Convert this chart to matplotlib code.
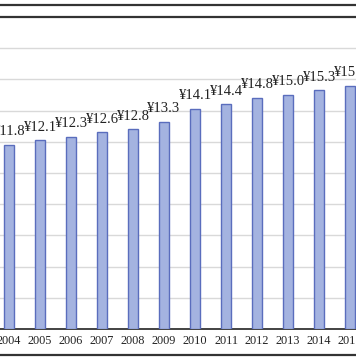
import matplotlib
matplotlib.use("Agg")
import matplotlib.pyplot as plt
from matplotlib.lines import Line2D

years = ["2004", "2005", "2006", "2007", "2008", "2009", "2010", "2011",
         "2012", "2013", "2014", "2015"]
values = [11.8, 12.1, 12.3, 12.6, 12.8, 13.3, 14.1, 14.4, 14.8, 15.0, 15.3, 15.6]
labels = ["¥11.8", "¥12.1", "¥12.3", "¥12.6", "¥12.8", "¥13.3", "¥14.1", "¥14.4",
          "¥14.8", "¥15.0", "¥15.3", "¥15.6"]

W, H = 356, 364
fig = plt.figure(figsize=(W / 100, H / 100), dpi=100)
y0 = (H - 329) / H
y1 = (H - 17) / H
ax = fig.add_axes([0, y0, 1, y1 - y0])
ax.set_facecolor("white")

x = list(range(len(years)))
ax.bar(x, values, width=0.34, color="#a4b3e0", edgecolor="#5a6dbd", linewidth=1.0, zorder=3)

for xi, v, lab in zip(x, values, labels):
    ax.annotate(lab, (xi, v), xytext=(0, 7), textcoords="offset points",
                ha="center", va="baseline", fontsize=10.5,
                family=["Liberation Serif", "DejaVu Serif"], color="#222222", zorder=4)

ax.set_ylim(0, 20)
ax.set_xlim(-0.29, 11.19)
ax.set_yticks([2, 4, 6, 8, 10, 12, 14, 16, 18])
ax.yaxis.grid(True, color="#d9d9d9", linewidth=1.0, zorder=0)
ax.tick_params(axis="y", left=False, labelleft=False)
ax.tick_params(axis="x", length=0, pad=4)
ax.set_xticks(x)
ax.set_xticklabels(years, fontsize=8.8, family=["Liberation Serif", "DejaVu Serif"], color="#222222")
for s in ["left", "right"]:
    ax.spines[s].set_visible(False)
ax.spines["bottom"].set_color("#222222")
ax.spines["bottom"].set_linewidth(1.2)
ax.spines["top"].set_color("#333333")
ax.spines["top"].set_linewidth(1.6)

for ypix in (5, 355):
    fy = (H - ypix) / H
    fig.add_artist(Line2D([0, 1], [fy, fy], transform=fig.transFigure,
                          color="#333333", linewidth=1.6))

fig.savefig("out.png", dpi=100, facecolor="white")
